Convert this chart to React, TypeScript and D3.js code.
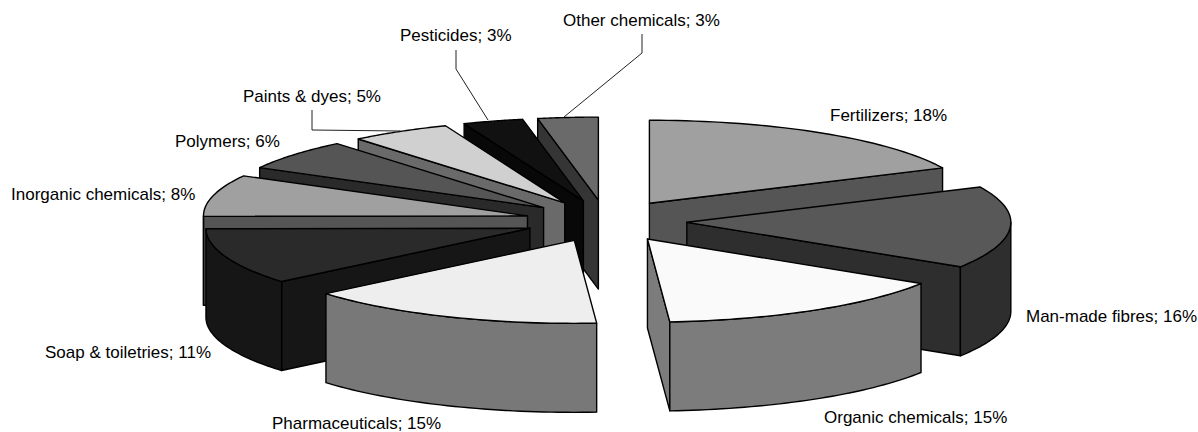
import React from "react";
import * as d3 from "d3";

const categories = ["Fertilizers","Man-made fibres","Organic chemicals","Pharmaceuticals","Soap & toiletries","Inorganic chemicals","Polymers","Paints & dyes","Pesticides","Other chemicals"];
const shares = [18,16,14.9,15,11,8.1,6,5,3,3];
const topFills = ["#a0a0a0","#585858","#fafafa","#eeeeee","#2a2a2a","#a0a0a0","#555555","#d0d0d0","#111111","#6a6a6a"];
const wallFills = ["#555555","#2e2e2e","#7c7c7c","#787878","#161616","#555555","#2a2a2a","#6a6a6a","#080808","#353535"];
// back-to-front painting order (indices into categories)
const paintOrder = [9,8,7,6,5,4,0,1,3,2];
// label placement: left edge and baseline
const labelX = [830,1026,824,272,45,11,175,243,400,563];
const labelY = [121,322,423,429,358,200,147,102,41,26];
const leaders: [number,number][][] = [
  [],[],[],[],[],[],[],
  [[312,110],[312,130],[400,131]],
  [[456,50],[456,69],[488,120]],
  [[642,34],[642,53],[564,117]],
];

const cx = 606, cy = 221, rx = 324, ry = 83, depth = 89, explodeX = 81, explodeY = 21;

export default function App() {
  const pie = d3.pie<number>().value(d => d).sort(null);
  const arcs = pie(shares);
  const px = d3.scaleLinear().domain([-1,1]).range([-rx,rx]);
  const py = d3.scaleLinear().domain([-1,1]).range([-ry,ry]);
  const pt = (ox:number, oy:number, a:number, dz=0): [number,number] => [ox+px(Math.sin(a)), oy+py(-Math.cos(a))+dz];
  const arcPts = (ox:number, oy:number, a0:number, a1:number, dz=0) => d3.range(0,41).map(i => pt(ox,oy,a0+(a1-a0)*i/40,dz));
  const line = d3.line();
  const slices = paintOrder.map(i => {
    const {startAngle:a0,endAngle:a1} = arcs[i];
    const mid=(a0+a1)/2;
    const ox=cx+explodeX*Math.sin(mid), oy=cy-explodeY*Math.cos(mid);
    const walls: string[] = [];
    const apex:[number,number]=[ox,oy], apexB:[number,number]=[ox,oy+depth];
    if (Math.sin(a1)>1e-6) walls.push(line([apex,pt(ox,oy,a1),pt(ox,oy,a1,depth),apexB])+"Z");
    if (Math.sin(a0)<-1e-6) walls.push(line([apex,pt(ox,oy,a0),pt(ox,oy,a0,depth),apexB])+"Z");
    const lo=Math.max(a0,Math.PI/2), hi=Math.min(a1,3*Math.PI/2);
    if (hi>lo) walls.push(line([...arcPts(ox,oy,lo,hi),...arcPts(ox,oy,lo,hi,depth).reverse()])+"Z");
    const top=line([apex,...arcPts(ox,oy,a0,a1)])+"Z";
    return {i,walls,top};
  });
  return (
    <svg width={1198} height={432} style={{position:"absolute",left:0,top:0,background:"#fff"}}>
      {slices.map(s=>(
        <g key={s.i} stroke="#000" strokeWidth={1.4} strokeLinejoin="round">
          {s.walls.map((d,j)=><path key={j} d={d} fill={wallFills[s.i]}/>)}
          <path d={s.top} fill={topFills[s.i]}/>
        </g>
      ))}
      {leaders.map((l,i)=>l.length?<path key={i} d={line(l)!} fill="none" stroke="#222" strokeWidth={1}/>:null)}
      {categories.map((c,i)=>(
        <text key={c} x={labelX[i]} y={labelY[i]} fontFamily="Liberation Sans" fontSize={17} fill="#000">{`${c}; ${Math.round(shares[i])}%`}</text>
      ))}
    </svg>
  );
}
